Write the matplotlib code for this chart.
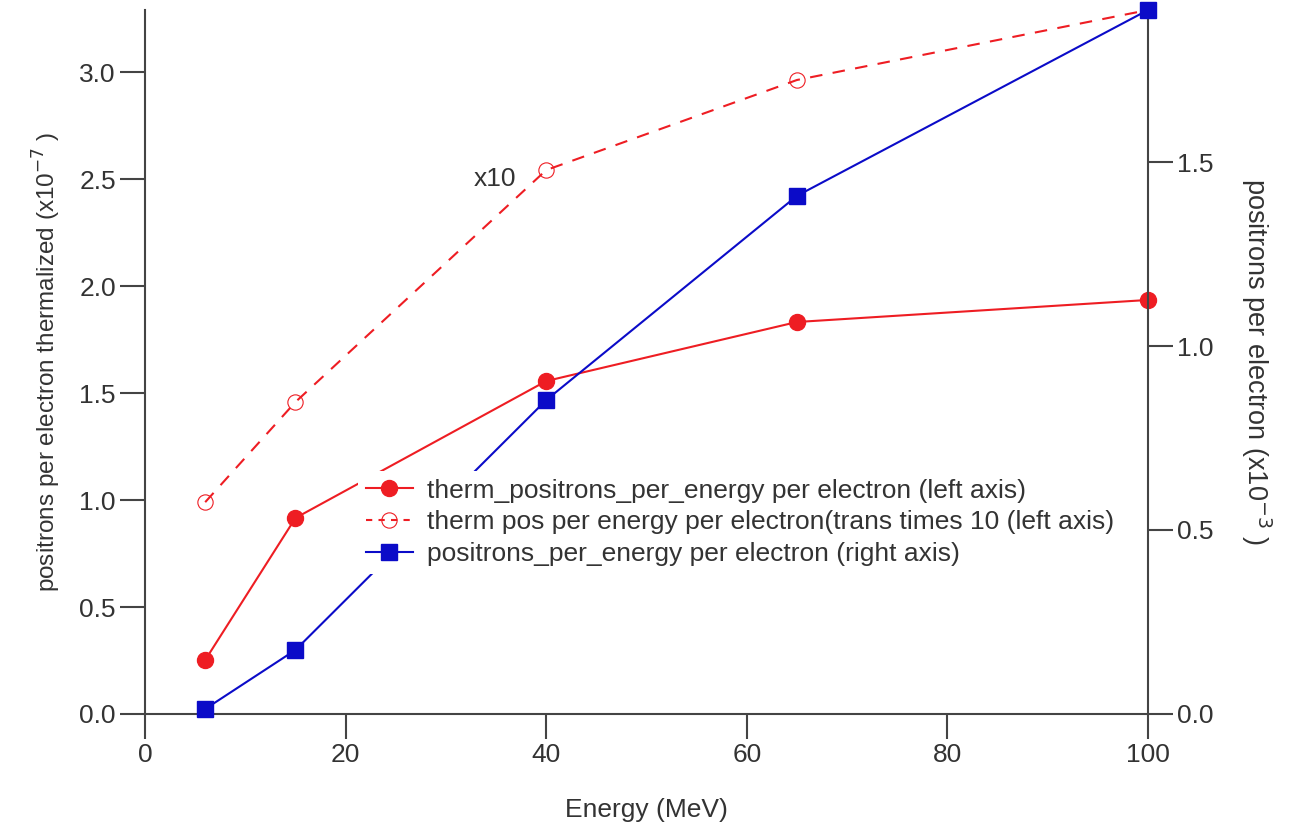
import matplotlib
matplotlib.use("Agg")
import matplotlib.pyplot as plt
from matplotlib.lines import Line2D

plt.rcParams['font.family'] = ['Liberation Sans', 'DejaVu Sans']

# data
energy = [6, 15, 40, 65, 100]
therm_pos = [0.252, 0.916, 1.556, 1.832, 1.935]        # left axis
therm_pos_x10 = [0.99, 1.458, 2.542, 2.963, 3.29]     # left axis, trans times 10
pos_per_energy = [0.0136, 0.174, 0.853, 1.408, 1.913]  # right axis

lab1 = 'therm_positrons_per_energy per electron (left axis)'
lab2 = 'therm pos per energy per electron(trans times 10 (left axis)'
lab3 = 'positrons_per_energy per electron (right axis)'

red = '#ee1d23'
blue = '#0b0bc8'
axc = '#444444'
txtc = '#333333'
fs = 19

fig = plt.figure(figsize=(12.89, 8.22), dpi=100)
ax = fig.add_axes([0.1125, 0.1314, 0.7781, 0.8564])
ax2 = ax.twinx()

ax.plot(energy, therm_pos, color=red, lw=1.5, marker='o', ms=11.5,
        clip_on=False, zorder=3)
ax.plot(energy, therm_pos_x10, color=red, lw=1.5, ls=(0, (6, 5)), marker='o',
        ms=11, mfc='none', mec=red, mew=0.8, clip_on=False, zorder=3)
ax2.plot(energy, pos_per_energy, color=blue, lw=1.5, marker='s', ms=12,
         clip_on=False, zorder=3)

ax.text(32.8, 2.5, 'x10', fontsize=fs, color=txtc, va='center', ha='left')

ax.set_xlim(0, 100)
ax.set_ylim(0, 3.29)
ax2.set_ylim(0, 1.913)
ax.set_xticks([0, 20, 40, 60, 80, 100])
ax.set_yticks([0, 0.5, 1.0, 1.5, 2.0, 2.5, 3.0])
ax2.set_yticks([0, 0.5, 1.0, 1.5])
ax.yaxis.set_major_formatter(matplotlib.ticker.FormatStrFormatter('%.1f'))
ax2.yaxis.set_major_formatter(matplotlib.ticker.FormatStrFormatter('%.1f'))

for a in (ax, ax2):
    a.spines['top'].set_visible(False)
    for s in a.spines.values():
        s.set_color(axc)
        s.set_linewidth(1.5)
    a.tick_params(direction='out', length=18, width=1.5, color=axc,
                  labelsize=fs, labelcolor=txtc, pad=3)
ax2.spines['left'].set_visible(False)
ax2.spines['bottom'].set_visible(False)
ax.spines['right'].set_visible(False)

ax.set_xlabel('Energy (MeV)', fontsize=fs, color=txtc, labelpad=22)
ax.set_ylabel(r'positrons per electron thermalized (x10$^{-7}$ )',
              fontsize=17.5, color=txtc, labelpad=12)
ax2.set_ylabel(r'positrons per electron (x10$^{-3}$ )', fontsize=19.5,
               color=txtc, rotation=270, labelpad=43)

handles = [
    Line2D([], [], color=red, lw=1.5, marker='o', ms=11.5),
    Line2D([], [], color=red, lw=1.5, ls=(0, (3, 3)), marker='o', ms=11,
           mfc='none', mec=red, mew=0.8),
    Line2D([], [], color=blue, lw=1.5, marker='s', ms=12),
]
leg = ax2.legend(handles, [lab1, lab2, lab3], loc='upper left',
                 bbox_to_anchor=(0.199, 0.3645), frameon=True, fontsize=fs,
                 handlelength=1.8, handletextpad=0.53, labelspacing=0.3,
                 borderpad=0.3, fancybox=False)
leg.get_frame().set_edgecolor('none')
leg.get_frame().set_facecolor('white')
leg.get_frame().set_alpha(1)
for t in leg.get_texts():
    t.set_color(txtc)
leg.set_zorder(10)

fig.savefig('out.png', dpi=100)
